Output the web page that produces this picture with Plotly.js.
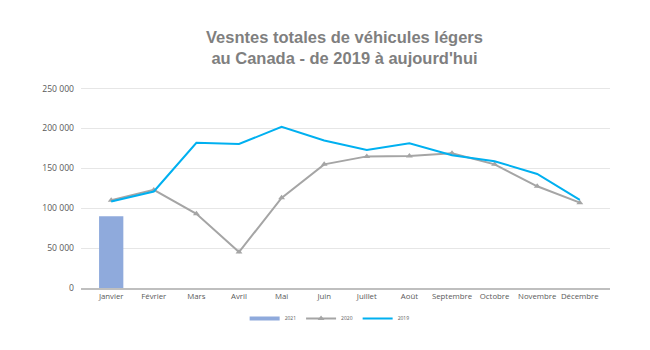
<!DOCTYPE html>
<html>
<head>
<meta charset="utf-8">
<script src="https://cdn.plot.ly/plotly-3.0.1.min.js"></script>
<style>html,body{margin:0;padding:0;background:#fff;}#chart{width:650px;height:350px;}</style>
</head>
<body>
<div id="chart"></div>
<script>
const months = ["Janvier","Février","Mars","Avril","Mai","Juin","Juillet","Août","Septembre","Octobre","Novembre","Décembre"];
const sales2021 = [90000];
const sales2020 = [110000,123000,93000,45000,113000,155000,165000,165500,169000,155000,127500,107000];
const sales2019 = [108500,121000,182000,180500,202000,185000,173000,181500,166500,159000,143000,110500];
const yTickVals = [0,50000,100000,150000,200000,250000];
const yTickText = ["0","50 000","100 000","150 000","200 000","250 000"];

const traces = [
  {type:"bar", name:"2021", x:months.slice(0,sales2021.length), y:sales2021,
   marker:{color:"#8faadc"}, width:0.57, showlegend:false, legendgroup:"a"},
  {type:"scatter", mode:"lines", name:"2021", x:[months[0]], y:[null],
   line:{color:"#8faadc", width:4}, showlegend:true, legendgroup:"a", hoverinfo:"skip"},
  {type:"scatter", mode:"lines+markers", name:"2020", x:months, y:sales2020,
   line:{color:"#a5a5a5", width:2}, marker:{symbol:"triangle-up", size:6, color:"#a5a5a5"}},
  {type:"scatter", mode:"lines", name:"2019", x:months, y:sales2019,
   line:{color:"#00b0f0", width:2}}
];

const layout = {
  width:650, height:350,
  margin:{l:81, r:40, t:87, b:62, autoexpand:false},
  paper_bgcolor:"#fff", plot_bgcolor:"#fff",
  font:{family:"Open Sans, Liberation Sans, Arial, sans-serif", color:"#595959", size:7.5},
  title:{text:"<b>Vesntes totales de véhicules légers<br>au Canada - de 2019 à aujourd'hui</b>",
    font:{size:16.5, color:"#7f7f7f", family:"Liberation Sans, Arial, sans-serif"},
    x:0.53, xanchor:"center", y:0.878, yanchor:"top"},
  showlegend:true,
  legend:{orientation:"h", x:0.47, xanchor:"center", yref:"container", y:0.09, yanchor:"middle",
    font:{size:5, color:"#595959"}, itemwidth:30, tracegroupgap:0},
  xaxis:{type:"category", categoryorder:"array", categoryarray:months,
    showgrid:false, showline:true, linecolor:"#bfbfbf", linewidth:1.5,
    ticks:"", tickfont:{size:7.8, color:"#595959"}, fixedrange:true},
  yaxis:{range:[0,252000], tickvals:yTickVals, ticktext:yTickText,
    showgrid:true, gridcolor:"#e6e6e6", gridwidth:1, zeroline:false,
    showline:false, ticks:"", ticklabelstandoff:6, tickfont:{size:8.6, color:"#595959"}, fixedrange:true},
  bargap:0.43
};

Plotly.newPlot("chart", traces, layout, {displayModeBar:false, staticPlot:true});
</script>
</body>
</html>
